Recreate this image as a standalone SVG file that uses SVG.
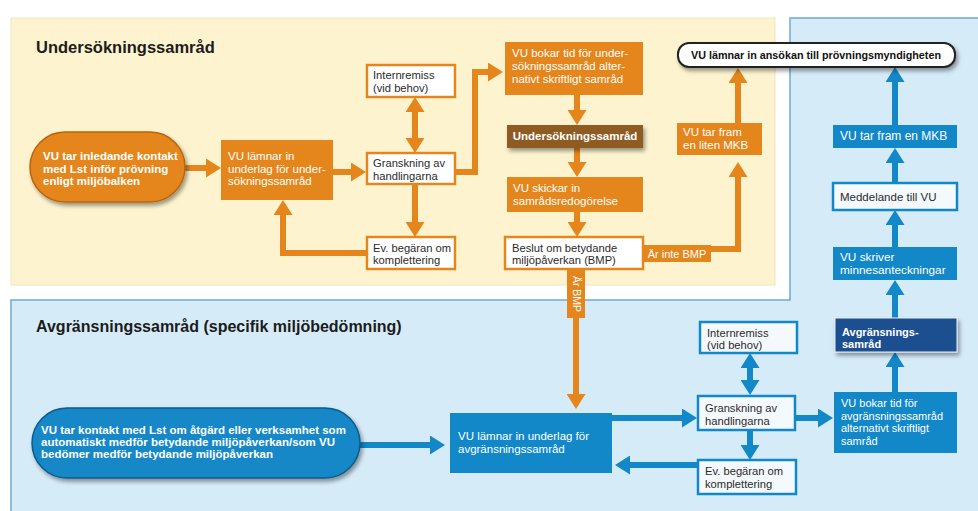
<svg xmlns="http://www.w3.org/2000/svg" width="978" height="511" viewBox="0 0 978 511">
<defs>
<style>
text{font-family:"Liberation Sans",Arial,sans-serif;}
.ttl{font-size:16px;font-weight:bold;fill:#1c1c1c;}
.tw{font-size:11.5px;fill:#ffffff;}
.twb{font-size:11.5px;fill:#ffffff;font-weight:bold;}
.td{font-size:11.2px;fill:#2b2b2b;}
.ob{fill:#e5861c;}
.ow{fill:#ffffff;stroke:#e5861c;stroke-width:2.5;}
.bb{fill:#1388c8;}
.bw{fill:#f4f9fd;stroke:#1388c8;stroke-width:2.5;}
.oc{fill:none;stroke:#e5861c;stroke-width:6;}
.bc{fill:none;stroke:#1388c8;stroke-width:6;}
</style>
<marker id="ao" markerUnits="userSpaceOnUse" markerWidth="15" markerHeight="19" viewBox="0 0 15 19" refX="1" refY="9.5" orient="auto-start-reverse"><path d="M0,0 L15,9.5 L0,19 z" fill="#e5861c"/></marker>
<marker id="ab" markerUnits="userSpaceOnUse" markerWidth="15" markerHeight="19" viewBox="0 0 15 19" refX="1" refY="9.5" orient="auto-start-reverse"><path d="M0,0 L15,9.5 L0,19 z" fill="#1388c8"/></marker>
<filter id="sh" x="-10%" y="-20%" width="130%" height="160%"><feDropShadow dx="2" dy="3" stdDeviation="2" flood-color="#000" flood-opacity="0.4"/></filter>
</defs>
<rect x="0" y="0" width="978" height="511" fill="#ffffff"/>
<g id="panel-yellow">
<rect x="11" y="18" width="764" height="267" fill="#fdf4cf" stroke="#efe5bb" stroke-width="1"/>
<text class="ttl" x="36" y="53" style="font-size:16.5px">Undersökningssamråd</text>
</g>
<g id="panel-blue">
<path d="M11,300 H790 V18 H990 V520 H11 Z" fill="#d6ebf8" stroke="#6eaad2" stroke-width="1.5"/>
<text class="ttl" x="36" y="332">Avgränsningssamråd (specifik miljöbedömning)</text>
</g>
<g id="connectors">
<path class="oc" d="M185,168 H207" marker-end="url(#ao)"/>
<path class="oc" d="M333,172 H352" marker-end="url(#ao)"/>
<path class="oc" d="M415,111 V139" marker-start="url(#ao)" marker-end="url(#ao)"/>
<path class="oc" d="M415,184 V223" marker-end="url(#ao)"/>
<path class="oc" d="M367,253 H283 V214" marker-end="url(#ao)"/>
<path class="oc" d="M455,172 H475 V72 H489" marker-end="url(#ao)"/>
<path class="oc" d="M577,95 V111" marker-end="url(#ao)"/>
<path class="oc" d="M577,148 V163" marker-end="url(#ao)"/>
<path class="oc" d="M577,212 V223" marker-end="url(#ao)"/>
<path class="oc" d="M705,249 H738 V176" marker-end="url(#ao)"/>
<path class="oc" d="M738,123 V82" marker-end="url(#ao)"/>
<path class="oc" d="M576,269 V395" marker-end="url(#ao)"/>
<rect x="643" y="245" width="68" height="17" class="ob"/>
<text class="tw" x="677" y="257.5" text-anchor="middle" style="font-size:11px">Är inte BMP</text>
<rect x="567" y="270" width="18" height="48" class="ob"/>
<text class="tw" x="0" y="0" text-anchor="middle" transform="translate(572.5,294) rotate(90)" style="font-size:10.5px">Är BMP</text>
<path class="bc" d="M360,445 H431" marker-end="url(#ab)"/>
<path class="bc" d="M612,418 H683" marker-end="url(#ab)"/>
<path class="bc" d="M750,367 V381" marker-start="url(#ab)" marker-end="url(#ab)"/>
<path class="bc" d="M750,430 V446" marker-end="url(#ab)"/>
<path class="bc" d="M698,465 H629" marker-end="url(#ab)"/>
<path class="bc" d="M795,418 H819" marker-end="url(#ab)"/>
<path class="bc" d="M895,392 V366" marker-end="url(#ab)"/>
<path class="bc" d="M895,318 V294" marker-end="url(#ab)"/>
<path class="bc" d="M895,247 V224" marker-end="url(#ab)"/>
<path class="bc" d="M895,183 V162" marker-end="url(#ab)"/>
<path class="bc" d="M895,125 V81" marker-end="url(#ab)"/>
</g>
<g id="n-start-orange">
<rect x="30" y="132" width="155" height="70" rx="35" fill="#e5861c" stroke="#b8650e" stroke-width="1.5" filter="url(#sh)"/>
<text class="twb" x="43" y="160">VU tar inledande kontakt</text>
<text class="twb" x="43" y="172.5">med Lst inför prövning</text>
<text class="twb" x="43" y="185">enligt miljöbalken</text>
</g>
<g id="n-underlag-us">
<rect x="221" y="140" width="112" height="60" class="ob"/>
<text class="tw" x="228" y="160">VU lämnar in</text>
<text class="tw" x="228" y="172.5">underlag för under-</text>
<text class="tw" x="228" y="185">sökningssamråd</text>
</g>
<g id="n-internremiss-o">
<rect x="367" y="65" width="88" height="32" class="ow"/>
<text class="td" x="373" y="79">Internremiss</text>
<text class="td" x="373" y="91.5">(vid behov)</text>
</g>
<g id="n-granskning-o">
<rect x="367" y="153" width="88" height="31" class="ow"/>
<text class="td" x="373" y="167">Granskning av</text>
<text class="td" x="373" y="179.5">handlingarna</text>
</g>
<g id="n-begaran-o">
<rect x="367" y="237" width="88" height="32" class="ow"/>
<text class="td" x="373" y="251.5">Ev. begäran om</text>
<text class="td" x="373" y="264">komplettering</text>
</g>
<g id="n-bokar-o">
<rect x="505" y="42" width="138" height="53" class="ob"/>
<text class="tw" x="512" y="57">VU bokar tid för under-</text>
<text class="tw" x="512" y="70">sökningssamråd alter-</text>
<text class="tw" x="512" y="83">nativt skriftligt samråd</text>
</g>
<g id="n-undersokningssamrad">
<rect x="507" y="125" width="136" height="23" fill="#8e5b22" filter="url(#sh)"/>
<text class="twb" x="575" y="140" text-anchor="middle">Undersökningssamråd</text>
</g>
<g id="n-skickar">
<rect x="507" y="177" width="136" height="35" class="ob"/>
<text class="tw" x="513" y="192">VU skickar in</text>
<text class="tw" x="513" y="205">samrådsredogörelse</text>
</g>
<g id="n-beslut">
<rect x="505" y="237" width="138" height="32" class="ow"/>
<text class="td" x="512" y="251.5">Beslut om betydande</text>
<text class="td" x="512" y="264">miljöpåverkan (BMP)</text>
</g>
<g id="n-liten-mkb">
<rect x="677" y="123" width="85" height="32" class="ob"/>
<text class="tw" x="683" y="136">VU tar fram</text>
<text class="tw" x="683" y="148.5">en liten MKB</text>
</g>
<g id="n-ansokan">
<rect x="678" y="43" width="277" height="24" rx="11" fill="#ffffff" stroke="#222222" stroke-width="2" filter="url(#sh)"/>
<text x="816" y="59" text-anchor="middle" textLength="250" lengthAdjust="spacingAndGlyphs" style="font-size:10.5px;font-weight:bold;fill:#111">VU lämnar in ansökan till prövningsmyndigheten</text>
</g>
<g id="n-start-blue">
<rect x="32" y="408" width="328" height="70" rx="35" fill="#1388c8" stroke="#0c5b8c" stroke-width="1.5" filter="url(#sh)"/>
<text class="twb" x="41" y="434">VU tar kontakt med Lst om åtgärd eller verksamhet som</text>
<text class="twb" x="41" y="446">automatiskt medför betydande miljöpåverkan/som VU</text>
<text class="twb" x="41" y="458">bedömer medför betydande miljöpåverkan</text>
</g>
<g id="n-underlag-av">
<rect x="450" y="413" width="162" height="60" class="bb"/>
<text class="tw" x="458" y="440">VU lämnar in underlag för</text>
<text class="tw" x="458" y="452.5">avgränsningssamråd</text>
</g>
<g id="n-internremiss-b">
<rect x="700" y="322" width="97" height="31" class="bw"/>
<text class="td" x="707" y="337">Internremiss</text>
<text class="td" x="707" y="349">(vid behov)</text>
</g>
<g id="n-granskning-b">
<rect x="698" y="396" width="97" height="34" class="bw"/>
<text class="td" x="705" y="412">Granskning av</text>
<text class="td" x="705" y="425">handlingarna</text>
</g>
<g id="n-begaran-b">
<rect x="698" y="460" width="98" height="34" class="bw"/>
<text class="td" x="705" y="475">Ev. begäran om</text>
<text class="td" x="705" y="488">komplettering</text>
</g>
<g id="n-bokar-b">
<rect x="834" y="392" width="123" height="61" class="bb"/>
<text class="tw" x="841" y="407" style="font-size:11px">VU bokar tid för</text>
<text class="tw" x="841" y="419.5" style="font-size:11px">avgränsningssamråd</text>
<text class="tw" x="841" y="432" style="font-size:11px">alternativt skriftligt</text>
<text class="tw" x="841" y="444.5" style="font-size:11px">samråd</text>
</g>
<g id="n-avgransningssamrad">
<rect x="835" y="318" width="122" height="34" fill="#1f4f8f" stroke="#e8eef6" stroke-width="1" filter="url(#sh)"/>
<text class="twb" x="842" y="335.5" style="font-size:11px">Avgränsnings-</text>
<text class="twb" x="842" y="347.5" style="font-size:11px">samråd</text>
</g>
<g id="n-minnes">
<rect x="833" y="247" width="124" height="33" class="bb"/>
<text class="tw" x="840" y="261" style="font-size:11.8px">VU skriver</text>
<text class="tw" x="840" y="274" style="font-size:11.8px">minnesanteckningar</text>
</g>
<g id="n-meddelande">
<rect x="833" y="183" width="124" height="27" class="bw"/>
<text class="td" x="840" y="200.5" style="font-size:11.5px">Meddelande till VU</text>
</g>
<g id="n-mkb">
<rect x="833" y="125" width="124" height="23" class="bb"/>
<text class="tw" x="840" y="140" style="font-size:12px">VU tar fram en MKB</text>
</g>
</svg>
